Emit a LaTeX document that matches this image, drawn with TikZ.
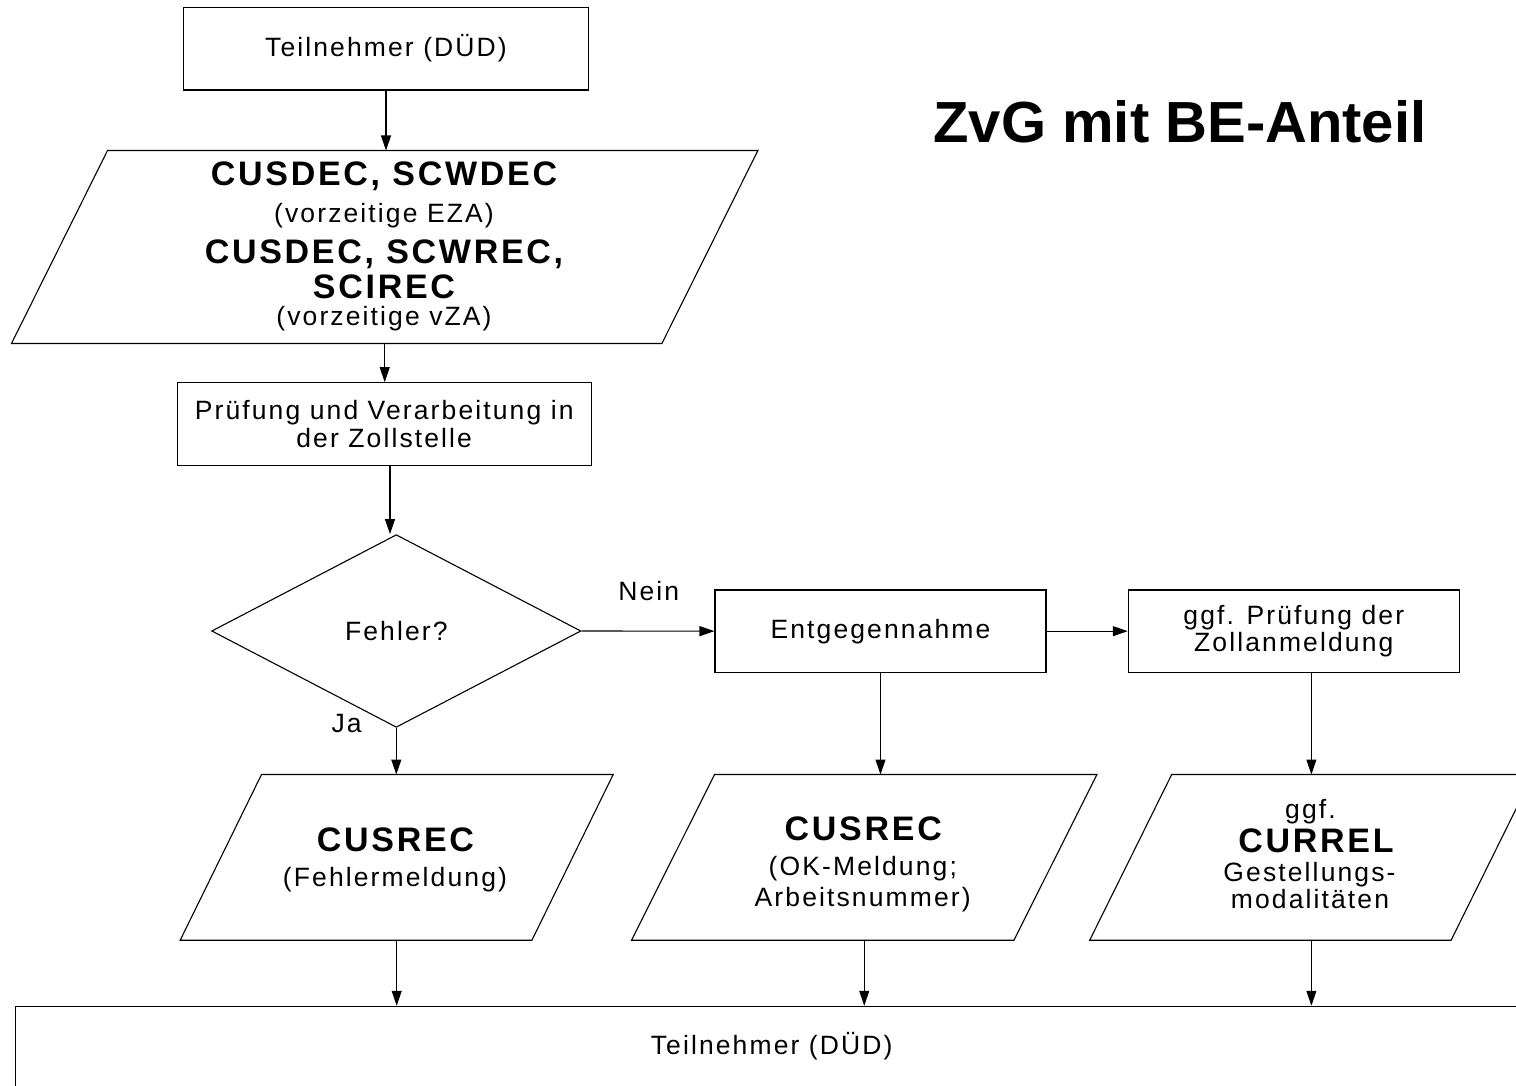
\documentclass[tikz,border=0pt]{standalone}
\usepackage{fontspec}
\setmainfont{Liberation Sans}[LetterSpace=8]
\newfontfamily\titlefont{Liberation Sans}
\usetikzlibrary{arrows.meta,shapes.geometric}
\newcommand\txtreg{\fontsize{26.5}{27.5}\selectfont}
\newcommand\txtbold{\fontsize{34}{36}\selectfont\bfseries}
\newcommand\drawpara[2]{\draw[outline] ([xshift=#2]#1.north west) -- ([xshift=#2]#1.north east) -- ([xshift=-#2]#1.south east) -- ([xshift=-#2]#1.south west) -- cycle;}
\begin{document}
\begin{tikzpicture}[x=1pt,y=-1pt,
  outline/.style={line width=1.1pt, line join=miter},
  box/.style={draw, line width=1.1pt, rectangle, inner sep=0pt, align=center, font=\txtreg},
  ghost/.style={rectangle, inner sep=0pt},
  reg/.style={anchor=base, inner sep=0pt, font=\txtreg},
  bold/.style={anchor=base, inner sep=0pt, font=\txtbold},
  arr/.style={-{Triangle[length=15pt,width=10pt]}, line width=1.1pt}]
\useasboundingbox (0,0) rectangle (1516,1086);
\fill[white] (0,0) rectangle (1516,1086);

% top box
\node[box, minimum width=405.4, minimum height=82.7] (top) at (386,48.65) {Teilnehmer (DÜD)};
% title
\node[anchor=base, inner sep=0pt, font=\titlefont\fontsize{58}{62}\selectfont\bfseries] (title) at (1180,142.7) {ZvG mit BE-Anteil};

% first parallelogram
\node[ghost, minimum width=650, minimum height=192.6] (p0) at (384.7,247) {};
\drawpara{p0}{48}
\node[bold] (p0a) at (384,185.7) {CUSDEC, SCWDEC};
\node[reg]  (p0b) at (384,222.7) {(vorzeitige EZA)};
\node[bold] (p0c) at (384,263.3) {CUSDEC, SCWREC,};
\node[bold] (p0d) at (384,298.3) {SCIREC};
\node[reg]  (p0e) at (384,325.5) {(vorzeitige vZA)};

% processing box
\node[box, minimum width=413.7, minimum height=82.6] (chk) at (384.2,424) {Prüfung und Verarbeitung in\\der Zollstelle};

% decision
\node[draw, diamond, aspect=2, inner sep=0pt, line width=1.1pt, minimum width=369.3, minimum height=192.7, font=\txtreg] (dia) at (396.3,631) {Fehler?};

\node[box, minimum width=331, minimum height=82.3] (ent) at (880.5,631.15) {Entgegennahme};
\node[box, minimum width=331, minimum height=82.3] (pz) at (1293.8,631.15) {ggf. Prüfung der\\Zollanmeldung};

\node[reg] (nein) at (648.8,600) {Nein};
\node[reg] (ja) at (346.7,732.7) {Ja};

% bottom row parallelograms
\node[ghost, minimum width=351.3, minimum height=165.3] (p1) at (396.7,857.35) {};
\drawpara{p1}{40.65}
\node[bold] (p1a) at (395.5,851.7) {CUSREC};
\node[reg]  (p1b) at (395,886.7) {(Fehlermeldung)};

\node[ghost, minimum width=382, minimum height=165.3] (p2) at (864.25,857.35) {};
\drawpara{p2}{41.5}
\node[bold] (p2a) at (863.3,840) {CUSREC};
\node[reg]  (p2b) at (862.8,875) {(OK-Meldung;};
\node[reg]  (p2c) at (862.7,906.7) {Arbeitsnummer)};

\node[ghost, minimum width=361, minimum height=165.3] (p3) at (1311.4,857.35) {};
\drawpara{p3}{41}
\node[reg]  (p3a) at (1310.5,818) {ggf.};
\node[bold] (p3b) at (1316,852) {CURREL};
\node[reg]  (p3c) at (1309.5,881.7) {Gestellungs-};
\node[reg]  (p3d) at (1310,908) {modalitäten};

% bottom box
\node[box, minimum width=1512.7, minimum height=80] (bot) at (771.65,1046.3) {Teilnehmer (DÜD)};

% connectors
\draw[arr] (top.south) -- (top.south |- p0.north);
\draw[arr] (p0.south) -- (p0.south |- chk.north);
\draw[arr] ([xshift=5.8]chk.south) -- ([xshift=-6.3]dia.north);
\draw[arr] (dia.east) -- (ent.west);
\draw[arr] (ent.east) -- (pz.west);
\draw[arr] (dia.south) -- (dia.south |- p1.north);
\draw[arr] (ent.south) -- (ent.south |- p2.north);
\draw[arr] (pz.south -| p3.north) -- (p3.north);
\draw[arr] (p1.south) -- (p1.south |- bot.north);
\draw[arr] (p2.south) -- (p2.south |- bot.north);
\draw[arr] (p3.south) -- (p3.south |- bot.north);
\end{tikzpicture}
\end{document}
